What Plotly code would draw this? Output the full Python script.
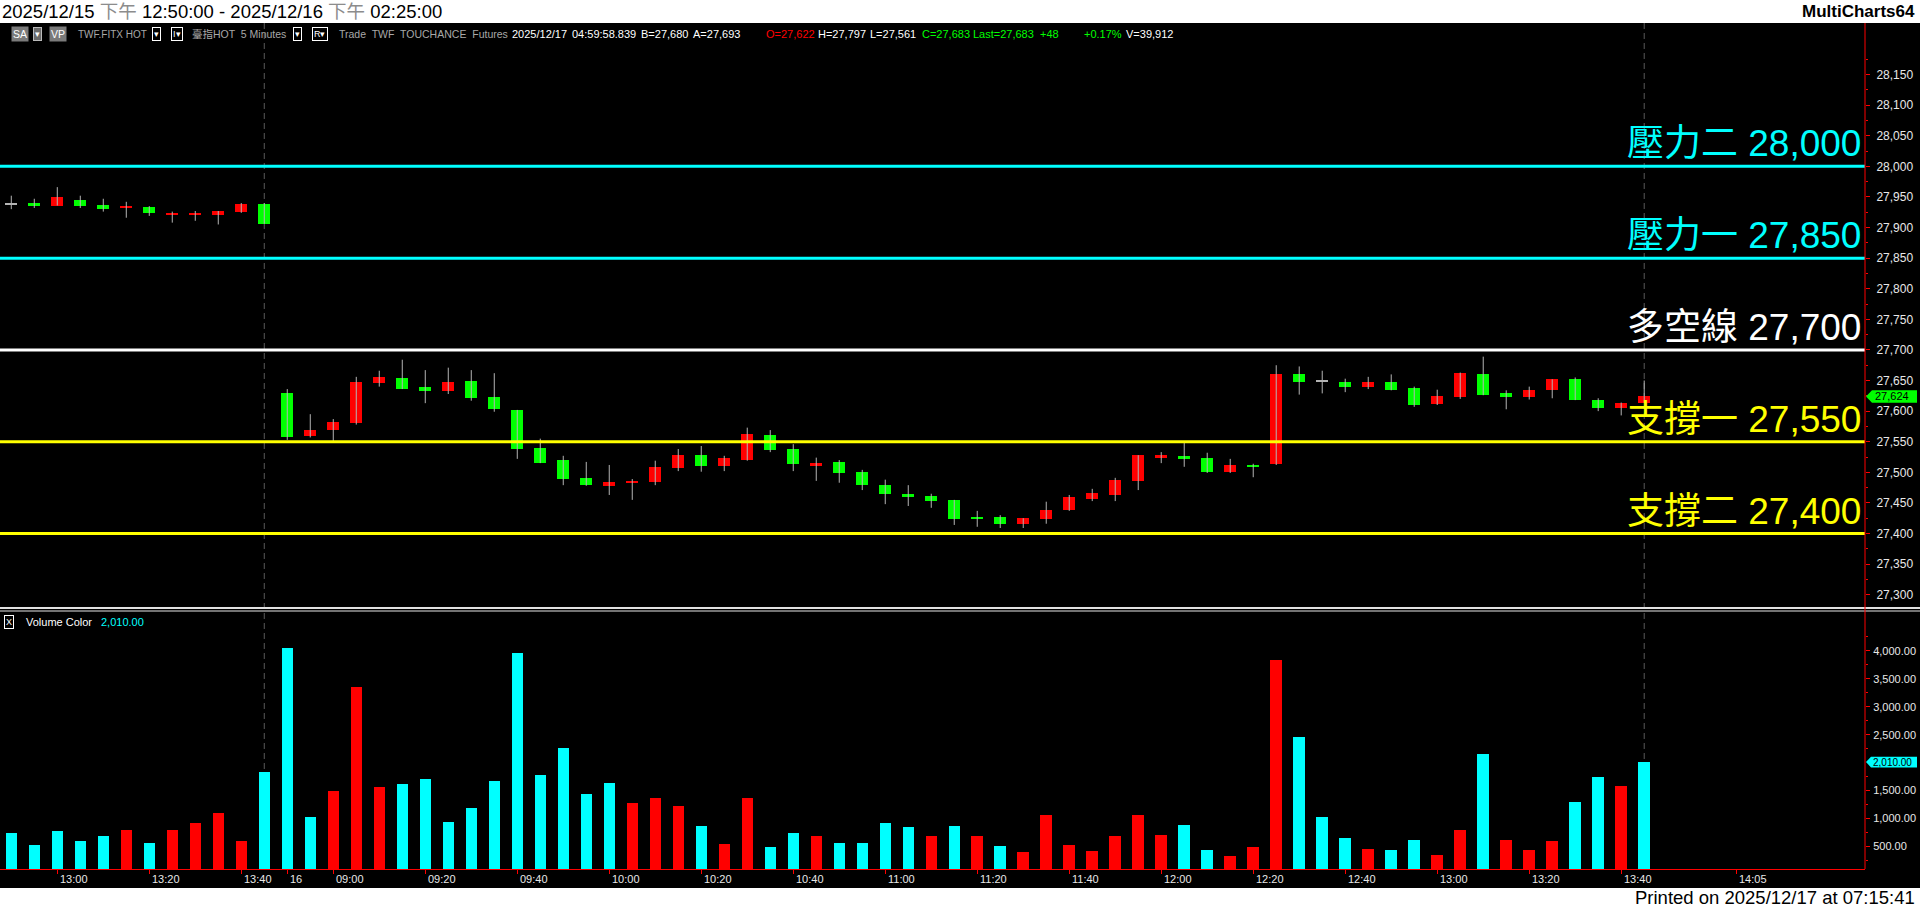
import plotly.graph_objects as go

# ---------------- data ----------------
bar_index = list(range(72))
opens = [27938, 27940, 27936, 27945, 27937, 27933, 27934, 27921, 27921, 27921, 27926, 27938,
         27630, 27559, 27569, 27581, 27646, 27654, 27640, 27633, 27649, 27623, 27602, 27540,
         27520, 27491, 27478, 27483, 27484, 27507, 27528, 27510, 27520, 27561, 27538, 27510,
         27517, 27501, 27479, 27465, 27461, 27455, 27427, 27427, 27416, 27424, 27439, 27457,
         27463, 27486, 27524, 27527, 27524, 27501, 27512, 27513, 27660, 27648, 27648, 27640,
         27647, 27637, 27611, 27623, 27661, 27629, 27623, 27634, 27652, 27619, 27605, 27614]
highs = [27952, 27947, 27966, 27952, 27947, 27942, 27935, 27926, 27927, 27927, 27940, 27940,
         27636, 27595, 27587, 27656, 27666, 27684, 27667, 27671, 27667, 27662, 27602, 27555,
         27527, 27517, 27512, 27489, 27519, 27538, 27543, 27527, 27573, 27569, 27546, 27524,
         27520, 27504, 27488, 27479, 27465, 27455, 27437, 27430, 27425, 27452, 27463, 27473,
         27491, 27528, 27533, 27548, 27532, 27522, 27514, 27675, 27673, 27666, 27653, 27656,
         27660, 27640, 27635, 27663, 27689, 27634, 27640, 27652, 27655, 27621, 27614, 27650]
lows = [27930, 27932, 27936, 27932, 27926, 27916, 27919, 27908, 27911, 27905, 27924, 27906,
        27553, 27557, 27550, 27578, 27640, 27636, 27613, 27628, 27617, 27599, 27522, 27515,
        27479, 27478, 27463, 27455, 27479, 27502, 27501, 27502, 27519, 27533, 27502, 27486,
        27483, 27471, 27448, 27445, 27442, 27414, 27411, 27409, 27409, 27416, 27437, 27453,
        27453, 27471, 27515, 27509, 27499, 27499, 27492, 27512, 27627, 27629, 27631, 27636,
        27634, 27607, 27610, 27620, 27626, 27603, 27619, 27621, 27618, 27600, 27593, 27614]
closes = [27938, 27936, 27950, 27936, 27930, 27934, 27923, 27924, 27924, 27927, 27938, 27906,
          27558, 27569, 27582, 27648, 27656, 27636, 27633, 27648, 27622, 27604, 27538, 27515,
          27489, 27479, 27484, 27486, 27509, 27528, 27510, 27524, 27563, 27537, 27514, 27515,
          27499, 27479, 27465, 27460, 27453, 27424, 27424, 27416, 27425, 27439, 27460, 27466,
          27488, 27528, 27528, 27522, 27501, 27512, 27509, 27660, 27647, 27648, 27639, 27648,
          27635, 27610, 27624, 27663, 27626, 27623, 27635, 27652, 27618, 27605, 27614, 27624]
volumes = [750, 518, 786, 607, 679, 804, 571, 804, 929, 1107, 607, 1839,
           4053, 1036, 1500, 3357, 1571, 1625, 1714, 946, 1196, 1679, 3964, 1786,
           2268, 1446, 1643, 1286, 1375, 1232, 875, 536, 1375, 482, 750, 679,
           571, 554, 929, 857, 679, 875, 696, 500, 393, 1071, 518, 411,
           679, 1071, 714, 893, 446, 321, 482, 3839, 2464, 1036, 643, 464,
           429, 625, 339, 804, 2161, 625, 446, 607, 1304, 1750, 1589, 2010]
vol_dir = list("ddddduduuuud" "dduuuddddddd" "ddduuuduuddu"
               "ddddududuuuu" "uuudduuudddu" "dduuduuuddud")
session_end_idx = [11, 71]
tick_idx = [2, 6, 10, 12, 14, 18, 22, 26, 30, 34, 38, 42, 46, 50, 54, 58, 62, 66, 70, 75]
tick_labels = ["13:00", "13:20", "13:40", "16", "09:00", "09:20", "09:40", "10:00", "10:20",
               "10:40", "11:00", "11:20", "11:40", "12:00", "12:20", "12:40", "13:00", "13:20",
               "13:40", "14:05"]
price_ticks = list(range(27300, 28151, 50))
price_minor = list(range(27275, 28176, 50))
# the 2,000.00 label is hidden under the last-volume marker in the reference
vol_ticks = [v for v in range(500, 4001, 500) if abs(v - volumes[-1]) > 150]
vol_minor = list(range(250, 4251, 500))
levels = [28000, 27850, 27700, 27550, 27400]
level_names = ["壓力二", "壓力一", "多空線", "支撐一", "支撐二"]
level_colors = ["#00FFFF", "#00FFFF", "#FFFFFF", "#FFFF00", "#FFFF00"]

# ---------------- geometry ----------------
W, H = 1920, 908
ML, MR, MT, MB = 0, 55, 23, 20
PW, PH = W - ML - MR, H - MT - MB
FONT = "Liberation Sans, Arial, Noto Sans CJK TC, sans-serif"


def py(p):
    return (H - MB - p) / PH


def pxx(p):
    return (p - ML) / PW


XR = [-0.491, 80.6]
PR = [27278.3, 28234.2]
VR = [97, 4679]

fig = go.Figure()

# wicks
wx, wy = [], []
for i, h, l in zip(bar_index, highs, lows):
    wx += [i, i, None]
    wy += [l, h, None]
fig.add_trace(go.Scatter(x=wx, y=wy, mode="lines", line=dict(color="#B4B4B4", width=1),
                         xaxis="x", yaxis="y", hoverinfo="skip"))
# bodies
body_base = [min(o, c) for o, c in zip(opens, closes)]
body_h = [max(abs(c - o), 1.8) for o, c in zip(opens, closes)]
body_col = ["#FF0000" if c > o else ("#00FF00" if c < o else "#B4B4B4")
            for o, c in zip(opens, closes)]
fig.add_trace(go.Bar(x=bar_index, y=body_h, base=body_base, width=0.53,
                     marker=dict(color=body_col, line=dict(width=0)),
                     xaxis="x", yaxis="y", hoverinfo="skip"))
# volume
vol_col = ["#FF0000" if d == "u" else "#00FFFF" for d in vol_dir]
fig.add_trace(go.Bar(x=bar_index, y=volumes, width=0.5,
                     marker=dict(color=vol_col, line=dict(width=0)),
                     xaxis="x2", yaxis="y2", hoverinfo="skip"))

fig.update_layout(
    width=W, height=H, autosize=False,
    margin=dict(l=ML, r=MR, t=MT, b=MB, pad=0),
    paper_bgcolor="#FFFFFF", plot_bgcolor="rgba(0,0,0,0)",
    showlegend=False, barmode="overlay", bargap=0,
    xaxis=dict(domain=[0, 1], range=XR, anchor="y", showticklabels=False, showgrid=False,
               zeroline=False, showline=False, ticks="", matches="x2"),
    xaxis2=dict(domain=[0, 1], range=XR, anchor="y2", showgrid=False, zeroline=False,
                showline=True, linecolor="#FF0000", linewidth=1, ticks="outside", ticklen=4,
                tickcolor="#FF0000", tickmode="array", tickvals=tick_idx, showticklabels=False),
    yaxis=dict(domain=[py(608), 1], range=PR, anchor="x", side="right", tickmode="array",
               tickvals=price_ticks, tickformat=",", ticks="outside", ticklen=4,
               tickcolor="#FF0000", tickfont=dict(family=FONT, size=12, color="#E8E8E8"),
               showgrid=False, zeroline=False, showline=False, ticklabelstandoff=4,
               minor=dict(tickmode="array", tickvals=price_minor, ticks="outside", ticklen=2,
                          tickcolor="#FF0000", showgrid=False)),
    yaxis2=dict(domain=[py(869), py(613)], range=VR, anchor="x2", side="right",
                tickmode="array", tickvals=vol_ticks, tickformat=",.2f", ticks="outside",
                ticklen=4, tickcolor="#FF0000",
                tickfont=dict(family=FONT, size=11, color="#E8E8E8"), showgrid=False,
                zeroline=False, showline=False, ticklabelstandoff=1,
                minor=dict(tickmode="array", tickvals=vol_minor, ticks="outside", ticklen=2,
                           tickcolor="#FF0000", showgrid=False)),
)

# background black region
fig.add_shape(type="rect", xref="paper", yref="paper", x0=0, x1=W / PW, y0=0, y1=1,
              fillcolor="#000000", line=dict(width=0), layer="below")
# session end dashed lines
for s in session_end_idx:
    fig.add_shape(type="line", xref="x", yref="paper", x0=s, x1=s, y0=py(869), y1=1,
                  line=dict(color="#5A5A5A", width=1, dash="6px,4px"), layer="below")
# level lines + labels
for lv, nm, col in zip(levels, level_names, level_colors):
    fig.add_shape(type="line", xref="paper", yref="y", x0=0, x1=1, y0=lv, y1=lv,
                  line=dict(color=col, width=3), layer="above")
    fig.add_annotation(x=1, xref="paper", y=lv, yref="y", xanchor="right", yanchor="bottom",
                       xshift=-2, yshift=0, showarrow=False, text=f"{nm} {lv:,}",
                       font=dict(family=FONT, size=37, color=col))
# pane separator
fig.add_shape(type="line", xref="paper", yref="paper", x0=0, x1=W / PW, y0=py(608), y1=py(608),
              line=dict(color="#E0E0E0", width=2), layer="above")
fig.add_shape(type="line", xref="paper", yref="paper", x0=0, x1=W / PW, y0=py(611), y1=py(611),
              line=dict(color="#9A9A9A", width=1.5), layer="above")
# price axis line
fig.add_shape(type="line", xref="paper", yref="paper", x0=1, x1=1, y0=py(869), y1=1,
              line=dict(color="#FF0000", width=1), layer="above")

# last price / last volume markers
lc = closes[-1]
dh = 6.3 * (PR[1] - PR[0]) / (608 - 23)
xt, xb, xr_ = pxx(1866), pxx(1872), pxx(1917)
fig.add_shape(type="path", xref="paper", yref="y",
              path=f"M {xt},{lc} L {xb},{lc + dh} L {xr_},{lc + dh} L {xr_},{lc - dh} L {xb},{lc - dh} Z",
              fillcolor="#00FF00", line=dict(width=0), layer="above")
fig.add_annotation(x=pxx(1873), xref="paper", y=lc, yref="y", xanchor="left", yanchor="middle",
                   showarrow=False, text=f"{lc:,}", font=dict(family=FONT, size=11, color="#000000"))
lv_ = volumes[-1]
dv = 5.3 * (VR[1] - VR[0]) / (869 - 613)
fig.add_shape(type="path", xref="paper", yref="y2",
              path=f"M {xt},{lv_} L {pxx(1871)},{lv_ + dv} L {xr_},{lv_ + dv} L {xr_},{lv_ - dv} L {pxx(1871)},{lv_ - dv} Z",
              fillcolor="#00FFFF", line=dict(width=0), layer="above")
fig.add_annotation(x=pxx(1871), xref="paper", y=lv_, yref="y2", xanchor="left", yanchor="middle",
                   showarrow=False, text=f"{lv_:,.2f}", font=dict(family=FONT, size=10, color="#000000"))

# x tick labels (drawn right of tick)
for ti, tl in zip(tick_idx, tick_labels):
    fig.add_annotation(x=ti, xref="x2", y=py(879), yref="paper", xanchor="left", yanchor="middle",
                       xshift=1, showarrow=False, text=tl,
                       font=dict(family=FONT, size=11, color="#E8E8E8"))


def txt(xp, yp, s, color="#FFFFFF", size=11, xanchor="left", **kw):
    fig.add_annotation(x=pxx(xp), y=py(yp), xref="paper", yref="paper", text=s, showarrow=False,
                       xanchor=xanchor, yanchor="middle",
                       font=dict(family=FONT, size=size, color=color), **kw)


# header / footer
txt(0, 11, "2025/12/15 <span style='color:#8C8C8C'>下午</span> 12:50:00 - 2025/12/16 "
           "<span style='color:#8C8C8C'>下午</span> 02:25:00", color="#000000", size=18.5)
txt(1917, 11, "<b>MultiCharts64</b>", color="#000000", size=17, xanchor="right")
txt(1917, 897, "Printed on 2025/12/17 at 07:15:41", color="#000000", size=18.5, xanchor="right")

# status bar
SY = 34
GRAY = "#A8A8A8"
BOX = dict(bordercolor="#FFFFFF", borderwidth=1, borderpad=1)
txt(11, SY, "SA", color="#FFFFFF", size=10.5, bgcolor="#7A7A7A")
txt(33, SY, "▾", color="#FFFFFF", size=9, bgcolor="#6A6A6A", bordercolor="#BBBBBB",
    borderwidth=1, borderpad=1)
txt(49, SY, "VP", color="#FFFFFF", size=10.5, bgcolor="#7A7A7A")
txt(76, SY, "TWF.FITX HOT", color=GRAY, size=10)
txt(152, SY, "▾", color="#FFFFFF", size=9, **BOX)
txt(171, SY, "I▾", color="#FFFFFF", size=9, **BOX)
txt(190, SY, "臺指HOT  5 Minutes", color=GRAY, size=10.5)
txt(293, SY, "▾", color="#FFFFFF", size=9, **BOX)
txt(312, SY, "R▾", color="#FFFFFF", size=9, **BOX)
txt(337, SY, "Trade  TWF  TOUCHANCE  Futures", color=GRAY, size=10.5)
txt(510, SY, "2025/12/17", size=11)
txt(570, SY, "04:59:58.839", size=11)
txt(639, SY, "B=27,680", size=11)
txt(691, SY, "A=27,693", size=11)
txt(764, SY, "O=27,622", color="#FF0000", size=11)
txt(816, SY, "H=27,797", size=11)
txt(868, SY, "L=27,561", size=11)
txt(920, SY, "C=27,683", color="#00FF00", size=11)
txt(971, SY, "Last=27,683", color="#00FF00", size=11)
txt(1038, SY, "+48", color="#00FF00", size=11)
txt(1082, SY, "+0.17%", color="#00FF00", size=11)
txt(1124, SY, "V=39,912", size=11)

# volume pane legend
txt(4, 622, "X", color="#FFFFFF", size=9, **BOX)
txt(24, 622, "Volume Color", size=11)
txt(99, 622, f"{volumes[-1]:,.2f}", color="#00FFFF", size=11)

fig.write_html("out.html", config={"displayModeBar": False},
               post_script="document.body.style.margin='0';document.body.style.overflow='hidden';")
